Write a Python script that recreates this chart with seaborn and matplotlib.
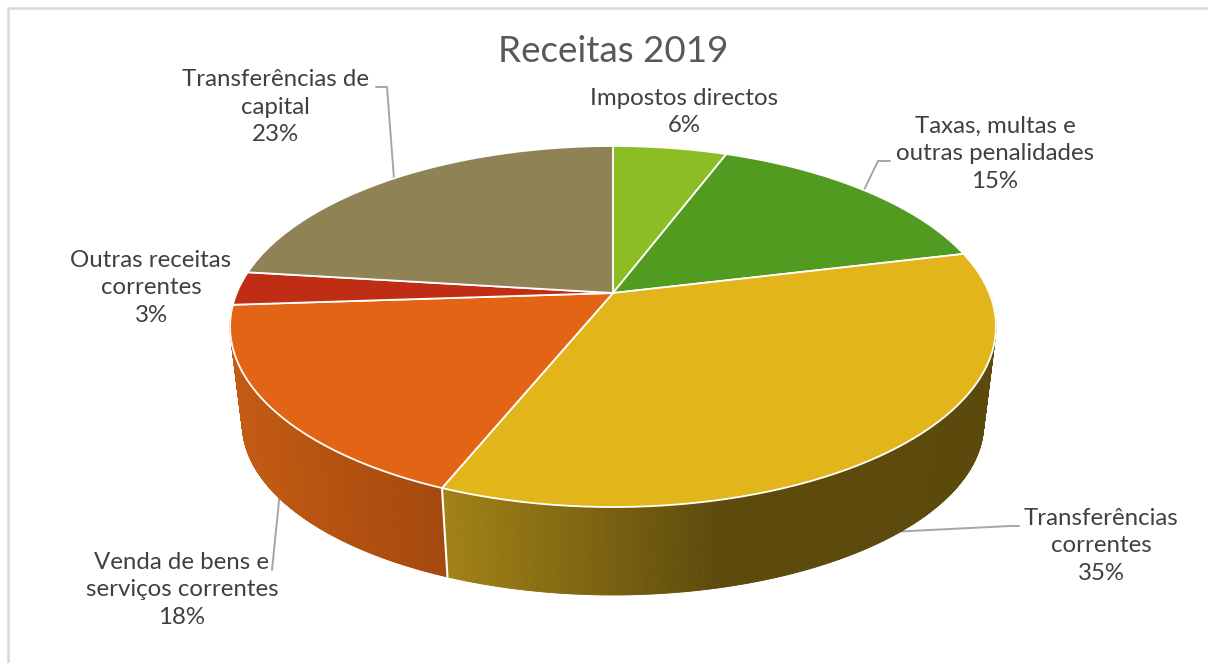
import numpy as np
import matplotlib
matplotlib.use('Agg')
import matplotlib.pyplot as plt
import seaborn as sns
from matplotlib.collections import PolyCollection
from matplotlib.path import Path
from matplotlib.transforms import Affine2D, Transform

# Data
names = ['Impostos directos', 'Taxas, multas e\noutras penalidades', 'Transferências\ncorrentes',
         'Venda de bens e\nserviços correntes', 'Outras receitas\ncorrentes', 'Transferências de\ncapital']
values = [5.75, 15.49, 34.9, 17.8, 3.0, 23.06]
colors = ['#8CBD24', '#519C20', '#E2B61B', '#E36415', '#BF2D15', '#8F8355']
label_x = [684, 995, 1101, 182, 151, 275]
label_y = [112, 154, 546, 590, 288, 107]
leaders = [None,
           [(890, 161), (878, 161), (864, 190)],
           [(1019, 526), (1010, 526), (890, 532)],
           [(272, 570), (280, 491)],
           None,
           [(376, 87), (387, 87), (394, 179)]]

# side wall shades, left to right
wall_shades = {2: ['#A28215', '#5C4A0C'], 3: ['#C55C14', '#A4490D']}
wall_ranges = {2: (447, 720), 3: (235, 447)}

sns.set_theme(style='white')
plt.rcParams['font.family'] = ['Lato', 'DejaVu Sans']

CX, CY, RX, RY, TILT = 613, 293, 376.3, 174.3, 0.1856


class TiltTransform(Transform):
    # circle seen in perspective, the back of the pie is further away
    input_dims = 2
    output_dims = 2

    def transform_non_affine(self, values):
        x, y = np.asarray(values).T
        w = 1 + TILT * y
        return np.column_stack([CX + RX * x / w, CY - RY * y / w])

    def transform_path_non_affine(self, path):
        poly = path.transformed(Affine2D().scale(500)).to_polygons()[0] / 500
        return Path(self.transform_non_affine(poly))


tilt = TiltTransform()


def top_rim(deg):
    t = np.radians(deg)
    return tilt.transform_non_affine(np.column_stack([np.sin(t), np.cos(t)]))


def bottom_rim(deg):
    p = top_rim(deg) - [613, 326]
    return p * [0.968, 0.95] + [613, 423]


fig, ax = plt.subplots(figsize=(12.08, 6.63), dpi=100)
ax.set_position([0, 0, 1, 1])

wedges, _ = ax.pie(values, startangle=90, counterclock=False, colors=colors,
                   wedgeprops=dict(edgecolor='white', linewidth=1.3))
for w in wedges:
    w.set_transform(tilt + ax.transData)
    w.set_zorder(3)

ax.set_aspect('auto')
ax.set_xlim(0, 1208)
ax.set_ylim(663, 0)
ax.axis('off')

# Side wall of the two front slices
edges = np.cumsum([0] + values) * 3.6
for i in wall_shades:
    deg = np.linspace(max(edges[i], 90), edges[i + 1], 400)
    top = top_rim(deg)
    low = bottom_rim(deg)
    quads = [[top[k], top[k + 1], low[k + 1], low[k]] for k in range(len(deg) - 1)]
    shades = sns.blend_palette(wall_shades[i], n_colors=200)
    idx = np.interp(low[:-1, 0], wall_ranges[i], [0, 199])
    cols = [shades[int(k)] for k in idx]
    ax.add_collection(PolyCollection(quads, facecolors=cols, edgecolors=cols, linewidths=0.6, zorder=2))

# white line between the two walls
corner = np.array([edges[3]])
a = top_rim(corner)[0]
b = bottom_rim(corner)[0]
ax.plot([a[0], b[0]], [a[1], b[1]], color='white', lw=1.5, zorder=2.5)

# Leader lines
for line in leaders:
    if line is not None:
        ax.plot(*zip(*line), color='#A6A6A6', lw=1.4, zorder=1)

# Labels
for name, val, x, y in zip(names, values, label_x, label_y):
    ax.text(x, y, f'{name}\n{val:.0f}%', ha='center', va='center', fontsize=17.3,
            color='#404040', linespacing=1.39, zorder=5)

ax.text(613, 51, 'Receitas 2019', ha='center', va='center', fontsize=26.5, color='#595959')

# Chart frame, only the top and left sides are in the crop
ax.plot([8, 8], [663, 8], color='#D9D9D9', lw=1.8)
ax.plot([8, 1208], [8, 8], color='#D9D9D9', lw=1.8)

plt.savefig('out.png', dpi=100)
